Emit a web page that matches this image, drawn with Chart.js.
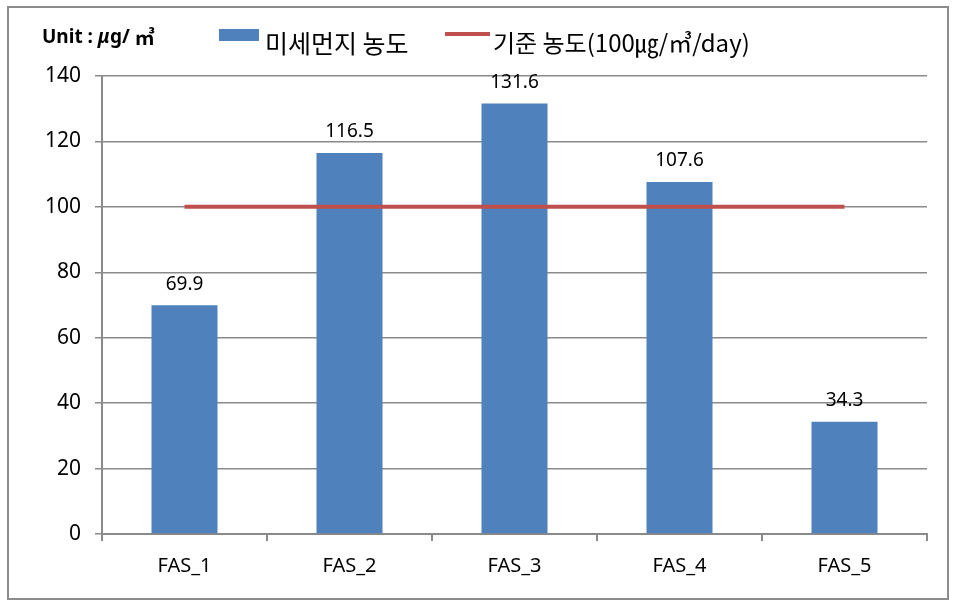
<!DOCTYPE html>
<html>
<head>
<meta charset="utf-8">
<script src="https://cdn.jsdelivr.net/npm/chart.js@4"></script>
<style>
  html, body { margin: 0; padding: 0; background: #fff; }
  #wrap { width: 955px; height: 606px; position: relative; }
</style>
</head>
<body>
<div id="wrap"><canvas id="dustChart" width="955" height="606"></canvas></div>
<script>
// chart data
const sites = ['FAS_1', 'FAS_2', 'FAS_3', 'FAS_4', 'FAS_5'];
const dustValues = [69.9, 116.5, 131.6, 107.6, 34.3];
const limitValues = [100, 100, 100, 100, 100];
const yTicks = [0, 20, 40, 60, 80, 100, 120, 140];

const barLabel = '미세먼지 농도';
const lineLabel = '기준 농도(100㎍/㎥/day)';

const BLUE = '#4F81BD';
const RED = '#C0504D';
const GRID = '#8a8a8a';
const FONT = "'Noto Sans', 'Noto Sans CJK KR', sans-serif";

// outer frame, legend, unit text and value labels
const decorPlugin = {
    id: 'decor',
    beforeDraw(chart) {
        const ctx = chart.ctx;
        ctx.save();
        ctx.fillStyle = '#fff';
        ctx.fillRect(0, 0, chart.width, chart.height);
        ctx.restore();
    },
    afterDraw(chart) {
        const ctx = chart.ctx;
        ctx.save();
        // frame
        ctx.strokeStyle = '#8c8c8c';
        ctx.lineWidth = 2;
        ctx.strokeRect(8, 7, 940, 592);

        // unit
        ctx.fillStyle = '#000';
        ctx.textBaseline = 'middle';
        ctx.textAlign = 'left';
        ctx.font = "bold 19px 'Noto Sans', sans-serif";
        ctx.fillText('Unit : ', 42, 38);
        let x = 42 + ctx.measureText('Unit : ').width;
        ctx.font = "bold italic 19px 'Noto Sans', sans-serif";
        ctx.fillText('μ', x, 38);
        x += ctx.measureText('μ').width;
        ctx.font = "bold 19px 'Noto Sans', sans-serif";
        ctx.fillText('g/ ', x, 38);
        x += ctx.measureText('g/ ').width;
        ctx.font = "bold 20px 'Noto Sans CJK KR', sans-serif";
        ctx.fillText('㎥', x, 37);

        // legend
        ctx.fillStyle = BLUE;
        ctx.fillRect(219, 29, 40, 12);
        ctx.fillStyle = '#000';
        ctx.textBaseline = 'middle';
        ctx.font = "25px 'Noto Sans CJK KR', sans-serif";
        ctx.fillText(barLabel, 265, 43);

        ctx.strokeStyle = RED;
        ctx.lineWidth = 4;
        ctx.beginPath();
        ctx.moveTo(445, 34);
        ctx.lineTo(490, 34);
        ctx.stroke();
        ctx.fillStyle = '#000';
        ctx.font = "24px 'Noto Sans CJK KR', sans-serif";
        ctx.fillText(lineLabel, 493, 43);

        // value labels above bars
        const meta = chart.getDatasetMeta(1);
        ctx.font = "19px 'Noto Sans', sans-serif";
        ctx.textAlign = 'center';
        ctx.textBaseline = 'middle';
        meta.data.forEach((bar, i) => {
            ctx.fillText(dustValues[i].toFixed(1), bar.x, bar.y - 21);
        });
        ctx.restore();
    }
};

new Chart(document.getElementById('dustChart'), {
    data: {
        labels: sites,
        datasets: [
            {
                type: 'line',
                label: lineLabel,
                data: limitValues,
                borderColor: RED,
                borderWidth: 4,
                pointRadius: 0,
                fill: false,
                order: 0
            },
            {
                type: 'bar',
                label: barLabel,
                data: dustValues,
                backgroundColor: BLUE,
                categoryPercentage: 0.4,
                barPercentage: 1.0,
                order: 1
            }
        ]
    },
    options: {
        responsive: false,
        animation: false,
        devicePixelRatio: 1,
        layout: { padding: { left: 0, right: 28, top: 76, bottom: 22 } },
        plugins: {
            legend: { display: false },
            tooltip: { enabled: false }
        },
        scales: {
            y: {
                min: 0,
                max: 140,
                afterBuildTicks: (axis) => { axis.ticks = yTicks.map(v => ({ value: v })); },
                border: { color: GRID, width: 2 },
                grid: { color: GRID, lineWidth: 1.5, tickLength: 7 },
                ticks: {
                    color: '#000',
                    font: { family: FONT, size: 21 },
                    padding: 14
                },
                afterFit: (axis) => { axis.width = 102; }
            },
            x: {
                border: { color: GRID, width: 2 },
                grid: { color: GRID, lineWidth: 2, drawOnChartArea: false, tickLength: 7, offset: true },
                ticks: {
                    color: '#000',
                    font: { family: FONT, size: 20 },
                    padding: 13
                },
                afterFit: (axis) => { axis.height = 50; }
            }
        }
    },
    plugins: [decorPlugin]
});
</script>
</body>
</html>
